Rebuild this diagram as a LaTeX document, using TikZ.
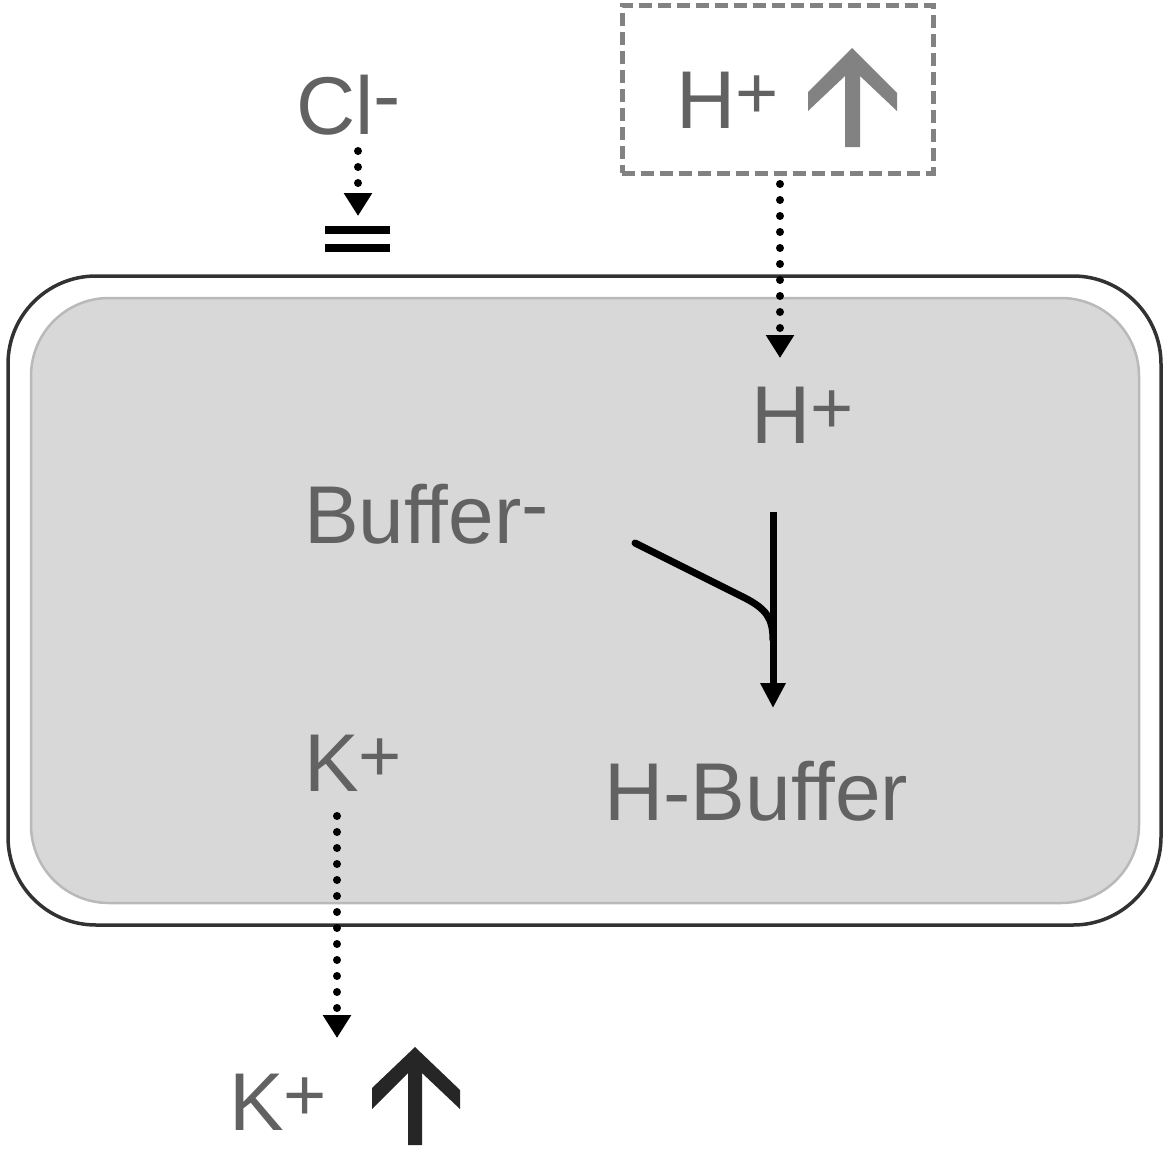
\documentclass[tikz,border=0pt]{standalone}
\usepackage{fontspec}
\setmainfont{Liberation Sans}
\usetikzlibrary{arrows.meta}
\definecolor{txtgray}{RGB}{98,98,98}
\definecolor{boxgray}{RGB}{130,130,130}
\definecolor{cellfill}{RGB}{216,216,216}
\definecolor{cellline}{RGB}{185,185,185}
\definecolor{darkline}{RGB}{50,50,50}
\newcommand\upch[1]{\raisebox{0.13em}{#1}}
\newcommand\upplus{\raisebox{0.12em}{\fontsize{74}{74}\selectfont +}}
\begin{document}
\begin{tikzpicture}[x=1pt,y=-1pt,
  lbl/.style={anchor=base west, inner sep=0pt, text=txtgray, font=\fontsize{82}{92}\selectfont},
  dotarrow/.style={line width=8pt, dash pattern=on 0pt off 16pt, line cap=round,
    -{Triangle[width=27pt,length=23pt]}},
  bararrow/.style={line width=7pt, -{Triangle[width=24pt,length=25pt]}}
]
\useasboundingbox (0,0) rectangle (1167,1151);

% cell
\draw[draw=darkline, line width=3.5pt, rounded corners=88pt] (8,276) rectangle (1161,925);
\draw[draw=cellline, fill=cellfill, line width=2.5pt, rounded corners=78pt] (31,298) rectangle (1139,903);

% Cl- and channel
\node[lbl] (cl) at (296,134) {Cl\upch{-}};
\coordinate (clS) at (358,151);
\coordinate (clE) at (358,216);
\draw[dotarrow] (clS) -- (clE);
\coordinate (bars) at (358,239);
\draw[line width=8pt] ([xshift=-33pt,yshift=-9pt]bars) -- ([xshift=32pt,yshift=-9pt]bars);
\draw[line width=8pt] ([xshift=-33pt,yshift=9pt]bars) -- ([xshift=32pt,yshift=9pt]bars);

% dashed box with H+ up
\node[draw=boxgray, dash pattern=on 13pt off 6pt, line width=5pt, minimum width=311pt, minimum height=168pt, inner sep=0pt] (hbox) at (777.5,89) {};
\node[lbl] (hout) at (676,128) {H\upplus};
\fill[boxgray] (852,48) -- (897,93) -- (897,111) -- (860,76) -- (860,147) -- (845,147) -- (845,76) -- (808,111) -- (808,92) -- cycle;

% H+ enters
\coordinate (hS) at (780,184);
\coordinate (hE) at (780,358);
\draw[dotarrow] (hS) -- (hE);
\node[lbl] (hin) at (751,443) {H\upplus};

% Buffer
\node[lbl] (buf) at (304,543) {Buffer\upch{-}};
\coordinate (yTop) at (773,512);
\coordinate (yEnd) at (773,708);
\coordinate (yLeft) at (635,543);
\draw[bararrow] (yTop) -- (yEnd);
\draw[line width=7pt, line cap=round] (yLeft) -- (745,598) .. controls (766,609) and (773,618) .. (773,640);
\node[lbl] (hbuf) at (604,820) {H-Buffer};

% K+
\node[lbl] (kin) at (304,791) {K\upplus};
\coordinate (kS) at (337,816);
\coordinate (kE) at (337,1038);
\draw[dotarrow] (kS) -- (kE);
\node[lbl] (kout) at (229,1130) {K\upplus};
\fill[black!85] (415,1047) -- (460,1090) -- (460,1109) -- (422,1073) -- (422,1145) -- (408,1145) -- (408,1073) -- (372,1109) -- (372,1088) -- cycle;
\end{tikzpicture}
\end{document}
